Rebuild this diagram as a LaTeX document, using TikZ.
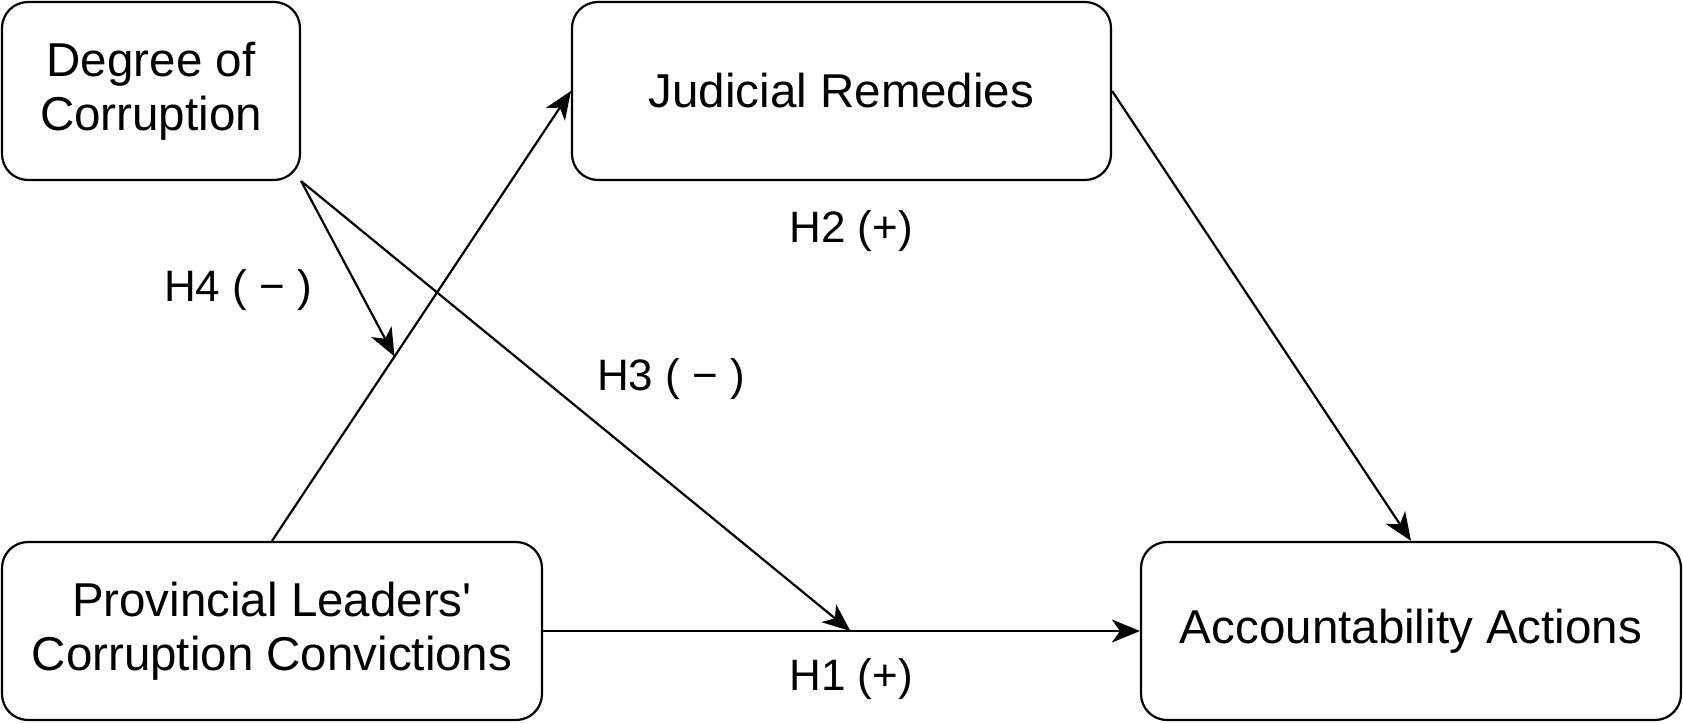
\documentclass[tikz,border=0pt]{standalone}
\usepackage{fontspec}
\setmainfont{Liberation Sans}
\usetikzlibrary{arrows.meta}
\begin{document}
\begin{tikzpicture}[x=1pt,y=-1pt,
  box/.style={draw, line width=2.2pt, rounded corners=26pt, align=center, inner sep=0pt,
    font=\fontsize{47.5}{54}\selectfont},
  conn/.style={line width=2.2pt, -{Stealth[length=28pt,width=23pt,inset=8pt]}},
  lbl/.style={font=\fontsize{44}{52}\selectfont, inner sep=0pt}]
\useasboundingbox (0,0) rectangle (1683,723);
\node[box, minimum width=298pt, minimum height=178pt] (deg) at (151,91) {Degree of\\Corruption};
\node[box, minimum width=539pt, minimum height=178pt] (jud) at (841.5,91) {Judicial Remedies};
\node[box, minimum width=540pt, minimum height=178pt] (prov) at (272,631) {Provincial Leaders\textquotesingle\\Corruption Convictions};
\node[box, minimum width=540pt, minimum height=178pt] (acc) at (1411,631) {Accountability Actions};
\path (prov.north) -- (jud.west) coordinate[pos=0.41] (h4t);
\path (prov.east) -- (acc.west) coordinate[pos=0.515] (h3t);
\draw[conn] (prov.north) -- (jud.west);
\draw[conn] (prov.east) -- (acc.west);
\draw[conn] (jud.east) -- (acc.north);
\draw[conn] (deg.south east) -- (h3t);
\draw[conn] (deg.south east) -- (h4t);
\node[lbl] (l4) at (238,290) {H4 ( − )};
\node[lbl] (l2) at (851,231) {H2 (+)};
\node[lbl] (l3) at (671,379) {H3 ( − )};
\node[lbl] (l1) at (851,679) {H1 (+)};
\end{tikzpicture}
\end{document}
